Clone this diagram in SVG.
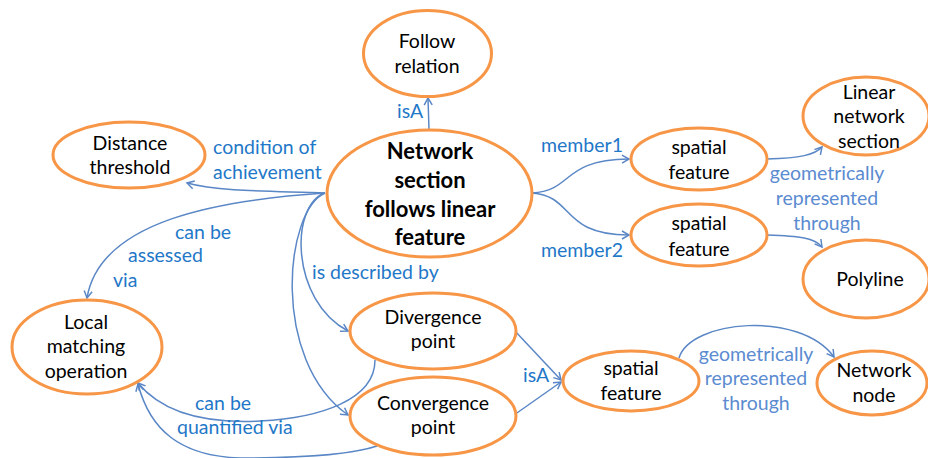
<svg xmlns="http://www.w3.org/2000/svg" width="928" height="458" viewBox="0 0 928 458">
<defs>
<style>
.n{fill:#fff;stroke:#F79646;stroke-width:3}
.t{font-family:Lato,"Liberation Sans",sans-serif;font-size:19.5px;fill:#000;text-anchor:middle}
.b{font-family:Lato,"Liberation Sans",sans-serif;font-size:22px;font-weight:bold;fill:#000;text-anchor:middle}
.l{font-family:Lato,"Liberation Sans",sans-serif;font-size:19.5px;fill:#1F78C8}
.g{font-family:Lato,"Liberation Sans",sans-serif;font-size:19.5px;fill:#5B8BD0;text-anchor:middle}
.c{fill:none;stroke:#5A87C6;stroke-width:1.5;marker-end:url(#a)}
</style>
<marker id="a" markerWidth="10" markerHeight="10" refX="8" refY="5" orient="auto" markerUnits="userSpaceOnUse">
<path d="M1,1 L8,5 L1,9" fill="none" stroke="#5A87C6" stroke-width="1.5"/>
</marker>
</defs>
<rect width="928" height="458" fill="#fff"/>
<g id="connectors">
<path class="c" d="M429,130 L428,98"/>
<path class="c" d="M325,193 C280,191 220,192 187,183"/>
<path class="c" d="M325,193 C220,200 100,220 87,298"/>
<path class="c" d="M325,193 C290,205 290,300 348,331"/>
<path class="c" d="M325,193 C285,210 270,360 348,415"/>
<path class="c" d="M532,193 C575,190 560,160 629,159"/>
<path class="c" d="M532,193 C575,196 560,235 629,235"/>
<path class="c" d="M767,159 C800,158 815,155 822,147"/>
<path class="c" d="M767,235 C800,236 815,238 822,247"/>
<path class="c" d="M514,330 L561,380"/>
<path class="c" d="M514,415 L561,382"/>
<path class="c" d="M679,358 C690,320 800,310 834,357"/>
<path class="c" d="M375,360 C375,400 320,418 260,421 C200,424 160,410 138,383"/>
<path class="c" d="M377,446 C350,455 300,458 240,458 C180,456 150,430 138,384"/>
</g>
<g id="follow-relation"><ellipse class="n" cx="427.5" cy="53.5" rx="64" ry="43"/><text class="t" x="427" y="48">Follow</text><text class="t" x="427" y="73">relation</text></g>
<g id="distance-threshold"><ellipse class="n" cx="129" cy="155" rx="76" ry="33"/><text class="t" x="130" y="150">Distance</text><text class="t" x="130" y="174">threshold</text></g>
<g id="network-section"><ellipse class="n" cx="429.5" cy="193.5" rx="102.5" ry="63.5"/><text class="b" x="430" y="159">Network</text><text class="b" x="430" y="188">section</text><text class="b" x="430" y="217">follows linear</text><text class="b" x="430" y="245">feature</text></g>
<g id="spatial-feature-1"><ellipse class="n" cx="699" cy="159" rx="68" ry="31"/><text class="t" x="699" y="154">spatial</text><text class="t" x="699" y="179">feature</text></g>
<g id="linear-network-section"><ellipse class="n" cx="866" cy="116" rx="63" ry="39"/><text class="t" x="869" y="99">Linear</text><text class="t" x="869" y="123">network</text><text class="t" x="869" y="148">section</text></g>
<g id="spatial-feature-2"><ellipse class="n" cx="699" cy="235" rx="68" ry="31"/><text class="t" x="699" y="230">spatial</text><text class="t" x="699" y="256">feature</text></g>
<g id="polyline"><ellipse class="n" cx="866" cy="279" rx="63" ry="39"/><text class="t" x="870" y="286">Polyline</text></g>
<g id="spatial-feature-3"><ellipse class="n" cx="631" cy="381" rx="68" ry="30"/><text class="t" x="631" y="375">spatial</text><text class="t" x="631" y="400">feature</text></g>
<g id="network-node"><ellipse class="n" cx="872" cy="383" rx="55" ry="32"/><text class="t" x="874" y="377">Network</text><text class="t" x="874" y="402">node</text></g>
<g id="local-matching"><ellipse class="n" cx="87" cy="347" rx="75" ry="47"/><text class="t" x="86" y="329">Local</text><text class="t" x="86" y="353">matching</text><text class="t" x="86" y="378">operation</text></g>
<g id="divergence-point"><ellipse class="n" cx="433" cy="331" rx="83" ry="38"/><text class="t" x="433" y="324">Divergence</text><text class="t" x="433" y="348">point</text></g>
<g id="convergence-point"><ellipse class="n" cx="433" cy="416" rx="83" ry="39"/><text class="t" x="433" y="410">Convergence</text><text class="t" x="433" y="434">point</text></g>
<g id="labels">
<text class="l" x="397" y="118">isA</text>
<text class="l" x="213" y="154">condition of</text>
<text class="l" x="213" y="179">achievement</text>
<text class="l" x="541" y="152">member1</text>
<text class="l" x="541" y="257">member2</text>
<text class="g" x="827" y="180">geometrically</text>
<text class="g" x="827" y="205">represented</text>
<text class="g" x="827" y="230">through</text>
<text class="l" x="175" y="239">can be</text>
<text class="l" x="128" y="262">assessed</text>
<text class="l" x="113" y="287">via</text>
<text class="l" x="312" y="279">is described by</text>
<text class="l" x="195" y="410">can be</text>
<text class="l" x="177" y="434">quantified via</text>
<text class="l" x="523" y="382">isA</text>
<text class="g" x="756" y="361">geometrically</text>
<text class="g" x="756" y="385">represented</text>
<text class="g" x="756" y="410">through</text>
</g>
</svg>
